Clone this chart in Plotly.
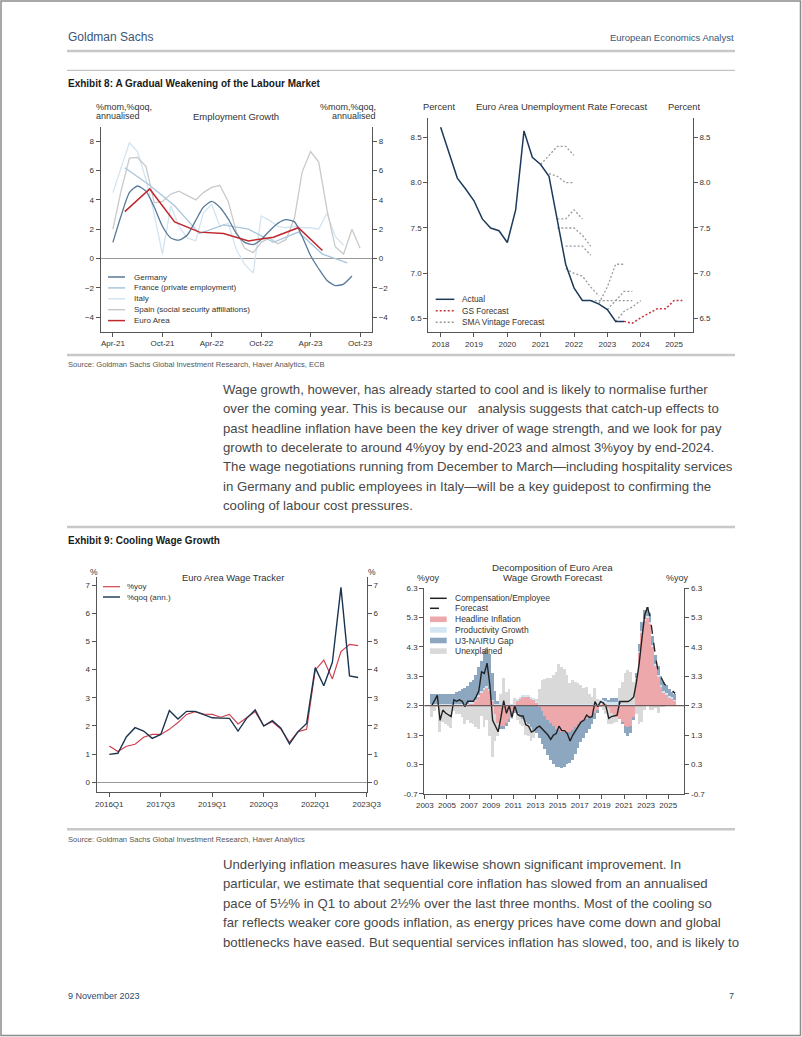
import plotly.graph_objects as go
import pandas as pd

W, H = 802, 1037


def px(x):
    return x / W


def py(y):
    return 1 - y / H


SANS = "Liberation Sans, Arial, sans-serif"

# ---------------- Exhibit 8 (left): Employment growth ----------------
emp_months = pd.date_range("2021-04-01", "2023-10-01", freq="MS")
germany = [1.1, 2.9, 4.5, 4.95, 4.6, 3.5, 2.2, 1.4, 1.25, 1.6, 2.6, 3.5, 3.9, 3.5, 2.7,
           1.7, 1.1, 0.95, 1.3, 1.9, 2.4, 2.65, 2.5, 1.5, 0.2, -0.7, -1.5, -1.85, -1.75, -1.2]
italy = [4.5, 6.2, 7.9, 7.3, 5.4, 3.0, 0.3, 3.6, 2.2, 1.4, 1.2, 3.1, 3.7, 2.2, 2.4,
         0.6, -0.4, -1.0, 2.9, 2.6, 2.2, 2.1, 2.2, 2.1, 2.1, 2.0, 3.1, 1.5, 0.9]
spain = [2.0, 4.6, 6.85, 6.9, 6.3, 3.8, 3.9, 4.4, 4.6, 4.3, 4.0, 4.5, 4.85, 5.0, 3.9,
         1.8, 0.7, 0.4, 1.1, 1.4, 1.0, 1.3, 2.8, 5.9, 7.3, 6.6, 3.3, 0.8, 0.3, 2.0, 0.7]
emp_quarters = ["2021-05-15", "2021-08-15", "2021-11-15", "2022-02-15", "2022-05-15",
                "2022-08-15", "2022-11-15", "2023-02-15", "2023-05-15", "2023-08-15"]
france = [6.2, 5.0, 3.6, 1.7, 2.3, 2.0, 1.1, 1.8, 0.3, -0.3]
euro_area = [3.2, 4.75, 2.5, 1.8, 1.7, 1.2, 1.45, 2.1, 0.55]
emp_tickvals = ["2021-04-01", "2021-10-01", "2022-04-01", "2022-10-01", "2023-04-01", "2023-10-01"]
emp_ticktext = ["Apr-21", "Oct-21", "Apr-22", "Oct-22", "Apr-23", "Oct-23"]
emp_yticks = [-4, -2, 0, 2, 4, 6, 8]

# ---------------- Exhibit 8 (right): Unemployment ----------------
ur_quarters = pd.period_range("2018Q1", "2023Q3", freq="Q")
ur_actual = [8.61, 8.32, 8.05, 7.93, 7.80, 7.60, 7.50, 7.47, 7.34, 7.70, 8.57, 8.28,
             8.20, 8.07, 7.60, 7.10, 6.84, 6.70, 6.70, 6.66, 6.60, 6.47, 6.47]
gs_quarters = pd.period_range("2023Q3", "2025Q2", freq="Q")
gs_forecast = [6.47, 6.45, 6.51, 6.56, 6.61, 6.61, 6.70, 6.70]
sma_vintages = [
    ("2021Q1", [8.20, 8.30, 8.40, 8.40, 8.30]),
    ("2021Q2", [8.10, 8.07, 8.00, 8.00]),
    ("2021Q3", [7.60, 7.60, 7.70, 7.60]),
    ("2021Q3", [7.50, 7.50, 7.50, 7.42, 7.30]),
    ("2021Q4", [7.30, 7.30, 7.30, 7.20]),
    ("2021Q4", [7.05, 7.00, 6.97, 6.85, 6.75]),
    ("2022Q4", [6.67, 6.85, 7.10, 7.10]),
    ("2022Q3", [6.70, 6.70, 6.70, 6.70, 6.70, 6.70]),
    ("2023Q1", [6.60, 6.70, 6.80, 6.80]),
    ("2023Q2", [6.47, 6.58, 6.63, 6.70]),
]
ur_years = [2018, 2019, 2020, 2021, 2022, 2023, 2024, 2025]
ur_yticks = [6.5, 7.0, 7.5, 8.0, 8.5]

# ---------------- Exhibit 9 (left): Wage tracker ----------------
wt_quarters = [str(p) for p in pd.period_range("2016Q1", "2023Q2", freq="Q")]
wt_yoy = [1.29, 1.09, 1.28, 1.35, 1.60, 1.70, 1.70, 1.88, 2.12, 2.41, 2.51, 2.42, 2.41, 2.31, 2.41,
          2.07, 2.29, 2.51, 2.01, 2.15, 1.89, 1.42, 1.80, 1.88, 3.98, 4.34, 3.67, 4.64, 4.90, 4.85]
wt_qoq = [0.99, 1.03, 1.62, 1.94, 1.82, 1.56, 1.70, 2.55, 2.25, 2.52, 2.52, 2.41, 2.29, 2.28, 2.27,
          1.82, 2.27, 2.57, 2.00, 2.19, 1.92, 1.36, 1.80, 2.09, 4.07, 3.43, 4.26, 6.92, 3.78, 3.72]
wt_tickpos = [0, 6, 12, 18, 24, 30]
wt_ticktext = ["2016Q1", "2017Q3", "2019Q1", "2020Q3", "2022Q1", "2023Q3"]
wt_yticks = [0, 1, 2, 3, 4, 5, 6, 7]

# ---------------- Exhibit 9 (right): Decomposition ----------------
BASE = 2.3
dec_quarters = pd.period_range("2003Q3", "2025Q3", freq="Q")
headline = [0.0, 0.0,
            0.0, 0.0, 0.0, 0.0,  0.0, 0.0, 0.0, 0.0,  0.0, 0.0, 0.0, 0.0,
            0.05, 0.05, 0.15, 0.30,  0.45, 0.55, 0.60, 0.50,  0.15, -0.30, -0.60, -0.70,
            -0.70, -0.60, -0.45, -0.25,  -0.05, 0.15, 0.25, 0.30,  0.30, 0.30, 0.25, 0.20,
            0.10, -0.05, -0.20, -0.35,  -0.50, -0.60, -0.70, -0.80,  -0.85, -0.90, -0.90, -0.90,
            -0.90, -0.85, -0.75, -0.65,  -0.55, -0.50, -0.45, -0.40,  -0.35, -0.25, -0.15, -0.05,
            0.10, 0.05, -0.10, -0.25,  -0.35, -0.40, -0.45, -0.55,  -0.70, -0.75, -0.70, -0.40,
            0.90, 1.80, 2.50, 2.90,  3.00, 2.80, 2.00, 1.35,  1.00, 0.65, 0.45, 0.38,
            0.28, 0.22, 0.15]
productivity = [0.05, 0.05,
                0.05, 0.05, 0.05, 0.05,  0.05, 0.05, 0.05, 0.05,  0.05, 0.05, 0.05, 0.05,
                0.05, 0.05, 0.05, 0.05,  0.05, 0.05, 0.05, 0.05,  0.05, 0.05, 0.05, 0.05,
                0.05, 0.05, 0.05, 0.05,  0.05, 0.05, 0.05, 0.05,  0.05, 0.05, 0.05, 0.05,
                0.05, 0.05, 0.05, 0.05,  0.05, 0.05, 0.05, 0.05,  0.05, 0.05, 0.05, 0.05,
                0.05, 0.05, 0.05, 0.05,  0.05, 0.05, 0.05, 0.05,  0.05, 0.05, 0.10, 0.10,
                0.10, 0.10, 0.10, 0.10,  0.10, 0.10, 0.05, 0.05,  0.05, 0.05, 0.05, 0.05,
                0.05, 0.05, 0.05, 0.05,  0.05, 0.05, 0.05, 0.05,  0.05, 0.05, 0.05, 0.05,
                0.05, 0.05, 0.05]
u3_gap = [0.35, 0.35,
          0.35, 0.35, 0.35, 0.35,  0.35, 0.35, 0.35, 0.40,  0.45, 0.50, 0.55, 0.60,
          0.70, 0.75, 0.85, 0.95,  1.00, 1.25, 1.30, 1.20,  0.90, 0.45, 0.10, -0.10,
          -0.10, -0.10, -0.10, -0.15,  -0.20, -0.25, -0.35, -0.45,  -0.55, -0.65, -0.75, -0.85,
          -0.95, -1.05, -1.10, -1.15,  -1.20, -1.25, -1.30, -1.30,  -1.25, -1.25, -1.20, -1.10,
          -1.05, -1.00, -0.90, -0.80,  -0.70, -0.60, -0.50, -0.40,  -0.30, -0.20, -0.10, 0.00,
          0.05, 0.10, 0.10, 0.15,  0.15, 0.15, 0.10, -0.10,  -0.25, -0.30, -0.25, -0.10,
          0.15, 0.25, 0.30, 0.30,  0.30, 0.30, 0.30, 0.30,  0.30, 0.30, 0.30, 0.25,
          0.22, 0.20, 0.20]
unexplained = [-0.40, -0.20,
               -0.05, -0.90, -0.55, -0.65,  -0.70, -0.77, -0.20, -0.30,  -0.30, -0.40, -0.63, -0.50,
               -0.60, -0.65, -0.75, -0.80,  -0.35, -0.75, -0.50, -1.05,  -1.75, -0.90, -0.45, 0.35,
               0.90, 0.40, 0.50, -0.05,  0.20, -0.25, -0.30, -0.25,  -0.45, -0.40, -0.45, -0.25,
               0.05, 0.50, 0.80, 0.85,  0.90, 0.90, 1.00, 1.10,  1.35, 1.25, 1.20, 1.00,
               0.70, 0.80, 0.75, 0.70,  0.65, 0.55, 0.58, 0.35,  0.23, 0.54, 0.12, 0.09,
               -0.15, -0.28, -0.53, -0.37,  -0.25, -0.17, 0.44, 0.74,  1.04, 1.14, 1.10, 0.75,
               -0.30, -0.65, -0.55, -0.15,  0.00, -0.15, -0.15, -0.10,  -0.25, -0.05, -0.05, 0.00,
               0.00, 0.00, 0.00]
comp_actual = [2.30, 2.50,
               2.65, 1.80, 2.15, 2.05,  2.00, 1.93, 2.50, 2.45,  2.50, 2.45, 2.27, 2.45,
               2.45, 2.45, 2.60, 2.80,  3.45, 3.40, 3.75, 3.00,  1.80, 1.60, 1.41, 1.90,
               2.47, 2.04, 2.30, 1.90,  2.30, 2.00, 1.95, 1.95,  1.65, 1.60, 1.40, 1.45,
               1.55, 1.60, 1.50, 1.40,  1.30, 1.15, 1.30, 1.35,  1.60, 1.45, 1.45, 1.35,
               1.10, 1.30, 1.45, 1.60,  1.75, 1.80, 1.98, 1.90,  1.93, 2.44, 2.27, 2.44,
               2.40, 2.27, 1.87, 1.93,  1.95, 1.98, 2.44, 2.44,  2.44, 2.44, 2.50, 2.60,
               3.10, 3.75, 4.60, 5.40,  5.65]
comp_forecast = [5.65, 5.30, 4.60, 3.90, 3.40, 3.25, 3.05, 2.95, 2.88, 2.80, 2.72]
dec_years = list(range(2003, 2026, 2))
dec_yticks = [-0.7, 0.3, 1.3, 2.3, 3.3, 4.3, 5.3, 6.3]

# ---------------- Colours ----------------
C_GER, C_FRA, C_ITA, C_ESP, C_EA = "#587a9a", "#a9c6dc", "#d3e4f1", "#c9c9c9", "#c0282d"
C_NAVY = "#1d3a5c"
C_RED = "#c8323a"
C_GREY_DOT = "#9a9a9a"
C_HI, C_PROD, C_U3, C_UNEX = "#eca8aa", "#d3e5f3", "#8ca7bf", "#d9d9d9"
AX = "#555555"
DOT = "2px,2px"

fig = go.Figure()

# Chart 1 traces
fig.add_trace(go.Scatter(x=emp_months[:len(italy)], y=italy, mode="lines", line=dict(color=C_ITA, width=1.3),
                         xaxis="x", yaxis="y", name="Italy"))
fig.add_trace(go.Scatter(x=emp_months[:len(spain)], y=spain, mode="lines", line=dict(color=C_ESP, width=1.3),
                         xaxis="x", yaxis="y", name="Spain (social security affiliations)"))
fig.add_trace(go.Scatter(x=emp_quarters, y=france, mode="lines", line=dict(color=C_FRA, width=1.3),
                         xaxis="x", yaxis="y", name="France (private employment)"))
fig.add_trace(go.Scatter(x=emp_months[:len(germany)], y=germany, mode="lines",
                         line=dict(color=C_GER, width=1.3, shape="spline", smoothing=0.6),
                         xaxis="x", yaxis="y", name="Germany"))
fig.add_trace(go.Scatter(x=emp_quarters[:len(euro_area)], y=euro_area, mode="lines",
                         line=dict(color=C_EA, width=1.5), xaxis="x", yaxis="y5", name="Euro Area"))


# Chart 2 traces
def qx(periods):
    return [p.year + (p.quarter - 1) / 4 for p in periods]


for start, vals in sma_vintages:
    per = pd.period_range(start, periods=len(vals), freq="Q")
    fig.add_trace(go.Scatter(x=qx(per), y=vals, mode="lines", line=dict(color=C_GREY_DOT, width=1.3, dash=DOT),
                             xaxis="x2", yaxis="y2", name="SMA Vintage Forecast"))
fig.add_trace(go.Scatter(x=qx(ur_quarters), y=ur_actual, mode="lines", line=dict(color=C_NAVY, width=1.5),
                         xaxis="x2", yaxis="y2", name="Actual"))
fig.add_trace(go.Scatter(x=qx(gs_quarters), y=gs_forecast, mode="lines", line=dict(color=C_RED, width=1.5, dash=DOT),
                         xaxis="x2", yaxis="y6", name="GS Forecast"))

# Chart 3 traces
wt_x = list(range(len(wt_quarters)))
fig.add_trace(go.Scatter(x=wt_x, y=wt_yoy, mode="lines", line=dict(color="#d0404f", width=1.2),
                         xaxis="x3", yaxis="y3", name="%yoy", text=wt_quarters))
fig.add_trace(go.Scatter(x=wt_x, y=wt_qoq, mode="lines", line=dict(color="#1b3550", width=1.4),
                         xaxis="x3", yaxis="y7", name="%qoq (ann.)", text=wt_quarters))

# Chart 4 traces (values plotted relative to the 2.3 baseline)
dec_x = [p.year + (p.quarter - 1) / 4 + 0.125 for p in dec_quarters]
for vals, col, nm in [(headline, C_HI, "Headline Inflation"), (productivity, C_PROD, "Productivity Growth"),
                      (u3_gap, C_U3, "U3-NAIRU Gap"), (unexplained, C_UNEX, "Unexplained")]:
    fig.add_trace(go.Bar(x=dec_x, y=vals, width=0.25, marker=dict(color=col, line=dict(width=0)),
                         xaxis="x4", yaxis="y4", name=nm))
n_act = len(comp_actual)
fig.add_trace(go.Scatter(x=dec_x[:n_act], y=[v - BASE for v in comp_actual], mode="lines",
                         line=dict(color="#222222", width=1.4), xaxis="x4", yaxis="y8",
                         name="Compensation/Employee"))
fig.add_trace(go.Scatter(x=dec_x[n_act - 1:n_act - 1 + len(comp_forecast)], y=[v - BASE for v in comp_forecast],
                         mode="lines", line=dict(color="#222222", width=1.4, dash="dash"), xaxis="x4", yaxis="y8",
                         name="Forecast"))

tickfont = dict(family=SANS, size=8, color="#333333")


def xax(domain, **kw):
    d = dict(domain=[px(domain[0]), px(domain[1])], showgrid=False, zeroline=False, showline=True,
             linecolor=AX, linewidth=1.2, ticks="outside", ticklen=4, tickcolor=AX, tickwidth=1,
             tickfont=tickfont, fixedrange=True, automargin=False)
    d.update(kw)
    return d


def yax(top, bottom, **kw):
    d = dict(domain=[py(bottom), py(top)], showgrid=False, zeroline=False, showline=True,
             linecolor=AX, linewidth=1.2, ticks="outside", ticklen=4, tickcolor=AX, tickwidth=1,
             tickfont=tickfont, fixedrange=True, automargin=False)
    d.update(kw)
    return d


emp_range = [-5, 9]
ur_range = [6.353, 8.716]
wt_range = [-0.355, 7.3]
dec_range = [-3.0, 4.0]
dec_tickvals = [v - BASE for v in dec_yticks]
dec_ticktext = ["%.1f" % v for v in dec_yticks]

fig.update_layout(
    width=W, height=H, margin=dict(l=0, r=0, t=0, b=0, pad=0, autoexpand=False),
    paper_bgcolor="white", plot_bgcolor="white",
    showlegend=False, barmode="relative", bargap=0,
    xaxis=xax((100.7, 372), anchor="y", type="date", range=["2021-02-15", "2023-11-14"],
              tickvals=emp_tickvals, ticktext=emp_ticktext),
    yaxis=yax(126.7, 331.7, anchor="x", range=emp_range, tickvals=emp_yticks, zeroline=True,
              zerolinecolor="#9a9a9a", zerolinewidth=1),
    yaxis5=yax(126.7, 331.7, anchor="x", overlaying="y", side="right", range=emp_range, tickvals=emp_yticks),
    xaxis2=xax((428.3, 692.7), anchor="y2", range=[2017.63, 2025.56], tickvals=ur_years),
    yaxis2=yax(117.7, 332, anchor="x2", range=ur_range, tickvals=ur_yticks, tickformat=".1f"),
    yaxis6=yax(117.7, 332, anchor="x2", overlaying="y2", side="right", range=ur_range, tickvals=ur_yticks,
               tickformat=".1f"),
    xaxis3=xax((96.7, 366.7), anchor="y3", range=[-1.47, 30], tickvals=wt_tickpos, ticktext=wt_ticktext),
    yaxis3=yax(576.7, 792.3, anchor="x3", range=wt_range, tickvals=wt_yticks, zeroline=True,
               zerolinecolor="#9a9a9a", zerolinewidth=1),
    yaxis7=yax(576.7, 792.3, anchor="x3", overlaying="y3", side="right", range=wt_range, tickvals=wt_yticks),
    xaxis4=xax((424.3, 684.3), anchor="y4", range=[2002.95, 2026.45], tickvals=dec_years),
    yaxis4=yax(588.3, 793.7, anchor="x4", range=dec_range, tickvals=dec_tickvals, ticktext=dec_ticktext),
    yaxis8=yax(588.3, 793.7, anchor="x4", overlaying="y4", side="right", range=dec_range,
               tickvals=dec_tickvals, ticktext=dec_ticktext),
)

shapes = []
annotations = []


def hline(y, x0, x1, color, width):
    shapes.append(dict(type="line", xref="paper", yref="paper", x0=px(x0), x1=px(x1), y0=py(y), y1=py(y),
                       line=dict(color=color, width=width)))


def text(x, y, s, size, color="#333333", anchor="left", family=SANS):
    annotations.append(dict(x=px(x), y=py(y), xref="paper", yref="paper", text=s, showarrow=False,
                            xanchor=anchor, yanchor="middle", font=dict(family=family, size=size, color=color)))


def leg_line(x0, x1, y, color, dash="solid", width=1.5):
    shapes.append(dict(type="line", xref="paper", yref="paper", x0=px(x0), x1=px(x1), y0=py(y), y1=py(y),
                       line=dict(color=color, width=width, dash=dash)))


def leg_rect(x0, x1, y, color):
    shapes.append(dict(type="rect", xref="paper", yref="paper", x0=px(x0), x1=px(x1), y0=py(y + 2.8),
                       y1=py(y - 2.8), line=dict(width=0), fillcolor=color))


# page border
shapes.append(dict(type="rect", xref="paper", yref="paper", x0=px(1), x1=px(800.5), y0=py(1035.5), y1=py(1),
                   line=dict(color="#8c8c8c", width=1.5)))

# header & rules
GS_BLUE = "#3a5577"
text(66, 37, "Goldman Sachs", 12, GS_BLUE)
text(736, 38, "European Economics Analyst", 9.5, GS_BLUE, anchor="right")
hline(51, 67, 735, "#c8c8c8", 2.5)
hline(70.3, 67, 735, "#b4b4b4", 1)
text(66, 83.3, "<b>Exhibit 8: A Gradual Weakening of the Labour Market</b>", 10, "#1a1a1a")
hline(355, 67, 735, "#c8c8c8", 2.5)
text(66, 364.5, "Source: Goldman Sachs Global Investment Research, Haver Analytics, ECB", 7.6, "#555555")

BODY_SIZE = 13.2
para1 = [
    "Wage growth, however, has already started to cool and is likely to normalise further",
    "over the coming year. This is because our   analysis suggests that catch-up effects to",
    "past headline inflation have been the key driver of wage strength, and we look for pay",
    "growth to decelerate to around 4%yoy by end-2023 and almost 3%yoy by end-2024.",
    "The wage negotiations running from December to March\u2014including hospitality services",
    "in Germany and public employees in Italy\u2014will be a key guidepost to confirming the",
    "cooling of labour cost pressures.",
]
for i, line in enumerate(para1):
    text(220.5, 389 + i * 19.5, line, BODY_SIZE, "#484848")

hline(527, 67, 735, "#c8c8c8", 2.5)
text(66, 540, "<b>Exhibit 9: Cooling Wage Growth</b>", 10, "#1a1a1a")
hline(829.3, 67, 735, "#c8c8c8", 2.5)
text(66, 839.3, "Source: Goldman Sachs Global Investment Research, Haver Analytics", 7.6, "#555555")

para2 = [
    "Underlying inflation measures have likewise shown significant improvement. In",
    "particular, we estimate that sequential core inflation has slowed from an annualised",
    "pace of 5\u00bd% in Q1 to about 2\u00bd% over the last three months. Most of the cooling so",
    "far reflects weaker core goods inflation, as energy prices have come down and global",
    "bottlenecks have eased. But sequential services inflation has slowed, too, and is likely to",
]
for i, line in enumerate(para2):
    text(220.5, 864 + i * 19.5, line, BODY_SIZE, "#484848")

text(66, 995.7, "9 November 2023", 9, "#2c4a6e")
text(736, 995.7, "7", 9, "#2c4a6e", anchor="right")

# chart 1 labels & legend
text(94, 107, "%mom,%qoq,", 9)
text(94, 116, "annualised", 9)
text(377.5, 107, "%mom,%qoq,", 9, anchor="right")
text(377.5, 116, "annualised", 9, anchor="right")
text(236, 116, "Employment Growth", 9.5, anchor="center")
emp_leg = [("Germany", C_GER), ("France (private employment)", C_FRA), ("Italy", C_ITA),
           ("Spain (social security affiliations)", C_ESP), ("Euro Area", C_EA)]
for i, (nm, col) in enumerate(emp_leg):
    yy = 277 + i * 10.9
    leg_line(108, 125, yy, col)
    text(131.5, yy, nm, 8)

# chart 2 labels & legend
text(439.3, 106.7, "Percent", 9.3, anchor="center")
text(561.7, 106.7, "Euro Area Unemployment Rate Forecast", 9.5, anchor="center")
text(684.3, 106.7, "Percent", 9.3, anchor="center")
ur_leg = [("Actual", C_NAVY, "solid"), ("GS Forecast", C_RED, DOT), ("SMA Vintage Forecast", C_GREY_DOT, DOT)]
for i, (nm, col, dash) in enumerate(ur_leg):
    yy = 299.3 + i * 11.5
    leg_line(435.7, 454.3, yy, col, dash)
    text(459.5, yy, nm, 8.3)

# chart 3 labels & legend
text(94.3, 571.7, "%", 8.5, anchor="center")
text(371.7, 571.7, "%", 8.5, anchor="center")
text(233.3, 577.7, "Euro Area Wage Tracker", 9.4, anchor="center")
leg_line(103, 120, 586.7, "#d0404f", width=1.2)
text(124.5, 586.7, "%yoy", 8)
leg_line(103, 120, 597, "#1b3550", width=1.4)
text(124.5, 597, "%qoq (ann.)", 8)

# chart 4 labels & legend
text(552.7, 567.3, "Decomposition of Euro Area", 9.7, anchor="center")
text(552.7, 577.3, "Wage Growth Forecast", 9.7, anchor="center")
text(428.3, 577.7, "%yoy", 9, anchor="center")
text(677.7, 577.7, "%yoy", 9, anchor="center")
leg_line(430, 446.7, 598.3, "#222222")
text(452.8, 598.3, "Compensation/Employee", 8.5)
leg_line(430, 446.7, 608.3, "#222222", dash="dash")
text(452.8, 608.3, "Forecast", 8.5)
for i, (nm, col) in enumerate([("Headline Inflation", C_HI), ("Productivity Growth", C_PROD),
                               ("U3-NAIRU Gap", C_U3), ("Unexplained", C_UNEX)]):
    yy = 619.3 + i * 10.6
    leg_rect(430, 446.7, yy, col)
    text(452.8, yy, nm, 8.5)

# baseline at 2.3 drawn over the bars
shapes.append(dict(type="line", xref="x4 domain", yref="y4", x0=0, x1=1, y0=0, y1=0, layer="above",
                   line=dict(color="#6e5a5a", width=1.2)))

fig.update_layout(shapes=shapes, annotations=annotations)
fig.write_html("out.html", config={"displayModeBar": False})
